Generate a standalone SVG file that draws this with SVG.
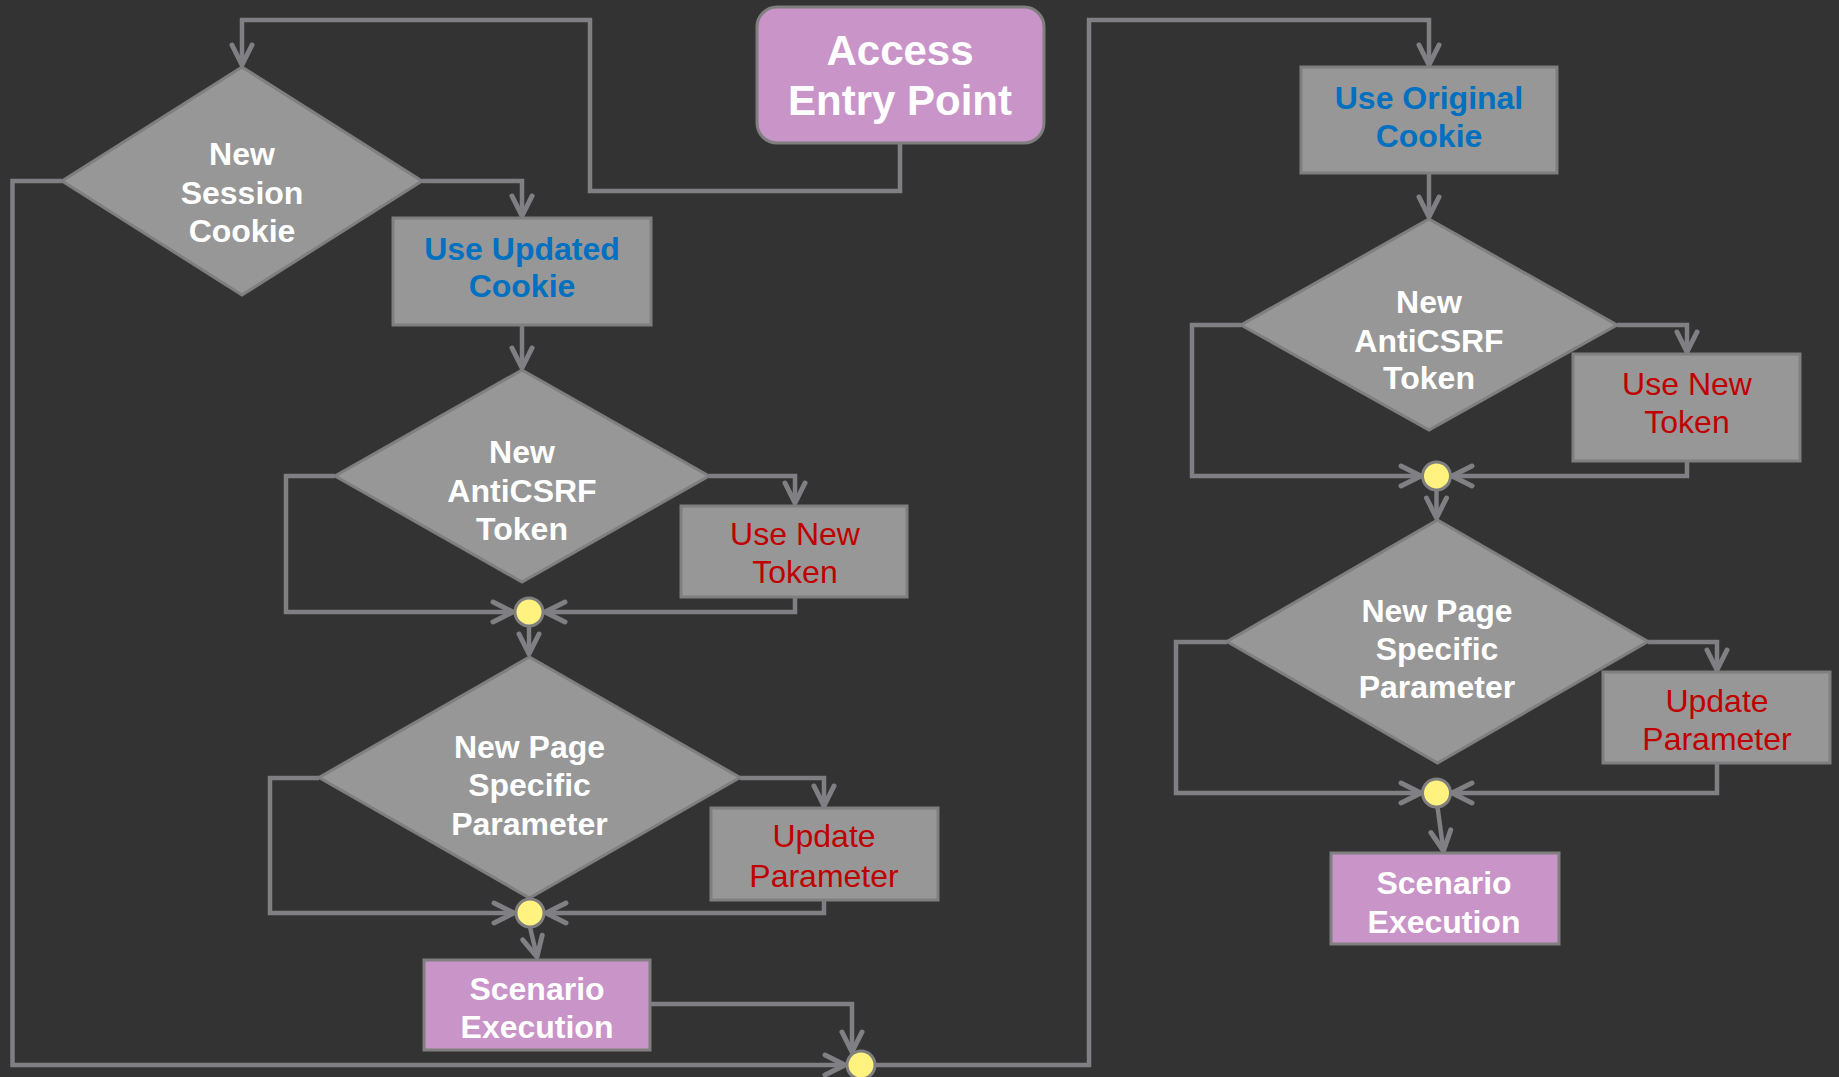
<svg xmlns="http://www.w3.org/2000/svg" width="1839" height="1077" viewBox="0 0 1839 1077">
  <defs>
    <style>
      .bg { fill: #333333; }
      .dec { fill: #979797; stroke: #7f7f7f; stroke-width: 3; }
      .box { fill: #979797; stroke: #7f7f7f; stroke-width: 3; }
      .term { fill: #c994c7; stroke: #7f7f7f; stroke-width: 3; }
      .join { fill: #fff27f; stroke: #7f7f7f; stroke-width: 3; }
      .wire { fill: none; stroke: #7f7f84; stroke-width: 4.5; stroke-linejoin: miter; marker-end: url(#arrow); }
      text { font-family: "Liberation Sans", Arial, sans-serif; font-size: 32px; text-anchor: middle; }
      .w { fill: #ffffff; font-weight: bold; }
      .blue { fill: #0070c0; font-weight: bold; }
      .red { fill: #c00000; }
      .big { font-size: 42px; }
    </style>
    <marker id="arrow" viewBox="0 0 26 26" refX="23" refY="13" markerWidth="26" markerHeight="26" markerUnits="userSpaceOnUse" orient="auto">
      <path d="M3,3 L23,13 L3,23" fill="none" stroke="#7f7f84" stroke-width="5" stroke-linecap="round" stroke-linejoin="round"/>
    </marker>
  </defs>

  <rect class="bg" x="0" y="0" width="1839" height="1077"/>

  <!-- connectors -->
  <g id="connectors">
    <path class="wire" d="M900,143 V191 H590 V20 H242 V65"/>
    <path class="wire" d="M422,181 H522 V216"/>
    <path class="wire" d="M62,181 H12.5 V1065 H845"/>
    <path class="wire" d="M522,325 V368"/>
    <path class="wire" d="M709,476 H795 V503"/>
    <path class="wire" d="M335,476 H286 V612 H513"/>
    <path class="wire" d="M795,597 V612 H545"/>
    <path class="wire" d="M529,626 V654"/>
    <path class="wire" d="M740,778 H824 V806"/>
    <path class="wire" d="M319,778 H270 V913 H514"/>
    <path class="wire" d="M824,900 V913 H546"/>
    <path class="wire" d="M530,927 L537,957"/>
    <path class="wire" d="M650,1004 H852 V1052"/>
    <path class="wire" d="M875,1065 H1089 V20 H1429 V65"/>
    <path class="wire" d="M1429,173 V217"/>
    <path class="wire" d="M1617,325 H1687 V352"/>
    <path class="wire" d="M1241,325 H1192 V476 H1421"/>
    <path class="wire" d="M1687,461 V476 H1452"/>
    <path class="wire" d="M1436.5,490 V518"/>
    <path class="wire" d="M1648,642 H1717 V670"/>
    <path class="wire" d="M1227,642 H1176 V793 H1421"/>
    <path class="wire" d="M1717,763 V793 H1452"/>
    <path class="wire" d="M1437.5,807 L1443.5,851"/>
  </g>

  <!-- start -->
  <g id="access-entry-point">
    <rect class="term" x="757" y="7" width="287" height="136" rx="20" ry="20"/>
    <text class="w big" x="900" y="65">Access</text>
    <text class="w big" x="900" y="115">Entry Point</text>
  </g>

  <!-- left branch: updated session cookie -->
  <g id="new-session-cookie">
    <polygon class="dec" points="242,67 422,181 242,295 62,181"/>
    <text class="w" x="242" y="165">New</text>
    <text class="w" x="242" y="204">Session</text>
    <text class="w" x="242" y="242">Cookie</text>
  </g>

  <g id="use-updated-cookie">
    <rect class="box" x="393" y="218" width="258" height="107"/>
    <text class="blue" x="522" y="260">Use Updated</text>
    <text class="blue" x="522" y="297">Cookie</text>
  </g>

  <g id="new-anticsrf-token-1">
    <polygon class="dec" points="522,370 709,476 522,582 335,476"/>
    <text class="w" x="522" y="463">New</text>
    <text class="w" x="522" y="502">AntiCSRF</text>
    <text class="w" x="522" y="540">Token</text>
  </g>

  <g id="use-new-token-1">
    <rect class="box" x="681" y="506" width="226" height="91"/>
    <text class="red" x="795" y="545">Use New</text>
    <text class="red" x="795" y="583">Token</text>
  </g>

  <g id="join-1">
    <circle class="join" cx="529" cy="612" r="14"/>
  </g>

  <g id="new-page-parameter-1">
    <polygon class="dec" points="529.5,657 740,777.5 529.5,898 319,777.5"/>
    <text class="w" x="529.5" y="758">New Page</text>
    <text class="w" x="529.5" y="796">Specific</text>
    <text class="w" x="529.5" y="835">Parameter</text>
  </g>

  <g id="update-parameter-1">
    <rect class="box" x="711" y="808" width="227" height="92"/>
    <text class="red" x="824" y="847">Update</text>
    <text class="red" x="824" y="887">Parameter</text>
  </g>

  <g id="join-2">
    <circle class="join" cx="530" cy="913" r="14"/>
  </g>

  <g id="scenario-execution-1">
    <rect class="term" x="424" y="960" width="226" height="90"/>
    <text class="w" x="537" y="1000">Scenario</text>
    <text class="w" x="537" y="1038">Execution</text>
  </g>

  <g id="join-bottom">
    <circle class="join" cx="861" cy="1065" r="14"/>
  </g>

  <!-- right branch: original session cookie -->
  <g id="use-original-cookie">
    <rect class="box" x="1301" y="67" width="256" height="106"/>
    <text class="blue" x="1429" y="109">Use Original</text>
    <text class="blue" x="1429" y="147">Cookie</text>
  </g>

  <g id="new-anticsrf-token-2">
    <polygon class="dec" points="1429,219 1617,325 1429,430 1241,325"/>
    <text class="w" x="1429" y="313">New</text>
    <text class="w" x="1429" y="352">AntiCSRF</text>
    <text class="w" x="1429" y="389">Token</text>
  </g>

  <g id="use-new-token-2">
    <rect class="box" x="1573" y="354" width="227" height="107"/>
    <text class="red" x="1687" y="395">Use New</text>
    <text class="red" x="1687" y="433">Token</text>
  </g>

  <g id="join-3">
    <circle class="join" cx="1436.5" cy="476" r="14"/>
  </g>

  <g id="new-page-parameter-2">
    <polygon class="dec" points="1437.5,520 1648,641.5 1437.5,763 1227,641.5"/>
    <text class="w" x="1437" y="622">New Page</text>
    <text class="w" x="1437" y="660">Specific</text>
    <text class="w" x="1437" y="698">Parameter</text>
  </g>

  <g id="update-parameter-2">
    <rect class="box" x="1603" y="672" width="227" height="91"/>
    <text class="red" x="1717" y="712">Update</text>
    <text class="red" x="1717" y="750">Parameter</text>
  </g>

  <g id="join-4">
    <circle class="join" cx="1436.5" cy="793" r="14"/>
  </g>

  <g id="scenario-execution-2">
    <rect class="term" x="1331" y="853" width="228" height="91"/>
    <text class="w" x="1444" y="894">Scenario</text>
    <text class="w" x="1444" y="933">Execution</text>
  </g>
</svg>
